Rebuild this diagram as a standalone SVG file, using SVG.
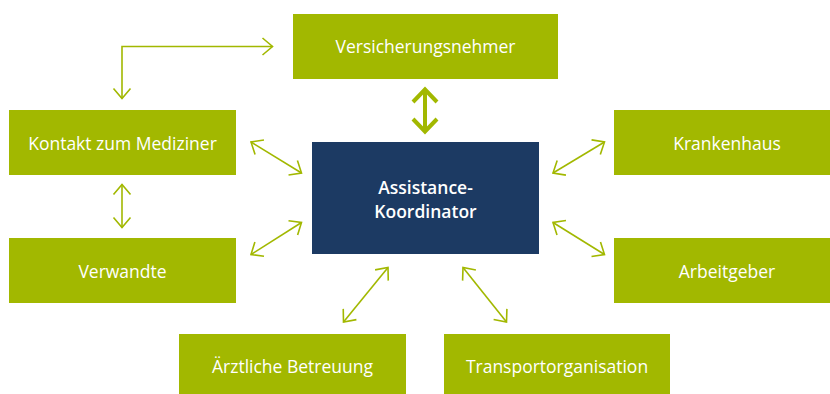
<svg xmlns="http://www.w3.org/2000/svg" width="830" height="394" viewBox="0 0 830 394">
  <style>
    .box { fill: #a2b800; }
    .hub { fill: #1c3a63; }
    .lbl { font-family: "Open Sans", "Liberation Sans", sans-serif; font-size: 17.5px; fill: #ffffff; text-anchor: middle; }
    .hubl { font-family: "Open Sans", "Liberation Sans", sans-serif; font-size: 17.5px; font-weight: 600; fill: #ffffff; text-anchor: middle; }
    .link { fill: none; stroke: #a2b800; stroke-width: 1.6; }
    .thick { fill: none; stroke: #a2b800; stroke-width: 4; }
  </style>
  <defs>
    <marker id="head" markerUnits="userSpaceOnUse" viewBox="-12 -10 14 20" refX="0" refY="0" markerWidth="14" markerHeight="20" orient="auto-start-reverse">
      <path d="M-10,-8.5 L0,0 L-10,8.5" fill="none" stroke="#a2b800" stroke-width="1.6"/>
    </marker>
    <marker id="headBig" markerUnits="userSpaceOnUse" viewBox="-16 -16 20 32" refX="0" refY="0" markerWidth="20" markerHeight="32" orient="auto-start-reverse">
      <path d="M-12.5,-12 L0,0 L-12.5,12" fill="none" stroke="#a2b800" stroke-width="4"/>
    </marker>
  </defs>

  <g id="connectors">
    <polyline class="link" points="122,98.5 122,46.5 272.5,46.5" marker-start="url(#head)" marker-end="url(#head)"/>
    <line class="link" x1="122" y1="184.5" x2="122" y2="227.5" marker-start="url(#head)" marker-end="url(#head)"/>
    <line class="link" x1="251" y1="142" x2="301.5" y2="173" marker-start="url(#head)" marker-end="url(#head)"/>
    <line class="link" x1="301.5" y1="222.5" x2="251" y2="254.5" marker-start="url(#head)" marker-end="url(#head)"/>
    <line class="link" x1="553" y1="173" x2="604.5" y2="142" marker-start="url(#head)" marker-end="url(#head)"/>
    <line class="link" x1="553" y1="222.5" x2="604.5" y2="254.5" marker-start="url(#head)" marker-end="url(#head)"/>
    <line class="link" x1="388" y1="267.5" x2="343.5" y2="322" marker-start="url(#head)" marker-end="url(#head)"/>
    <line class="link" x1="463" y1="267.5" x2="506.5" y2="322" marker-start="url(#head)" marker-end="url(#head)"/>
    <line class="thick" x1="425" y1="89.5" x2="425" y2="131.5" marker-start="url(#headBig)" marker-end="url(#headBig)"/>
  </g>

  <g id="versicherungsnehmer">
    <rect class="box" x="293" y="14" width="265" height="65"/>
    <text class="lbl" x="425.5" y="53">Versicherungsnehmer</text>
  </g>
  <g id="kontakt-mediziner">
    <rect class="box" x="9" y="110" width="227" height="65"/>
    <text class="lbl" x="122.5" y="150">Kontakt zum Mediziner</text>
  </g>
  <g id="verwandte">
    <rect class="box" x="9" y="238" width="227" height="65"/>
    <text class="lbl" x="122.5" y="278">Verwandte</text>
  </g>
  <g id="krankenhaus">
    <rect class="box" x="614" y="110" width="216" height="65"/>
    <text class="lbl" x="727" y="150">Krankenhaus</text>
  </g>
  <g id="arbeitgeber">
    <rect class="box" x="614" y="238" width="216" height="65"/>
    <text class="lbl" x="727" y="278">Arbeitgeber</text>
  </g>
  <g id="aerztliche-betreuung">
    <rect class="box" x="179" y="334" width="227" height="60"/>
    <text class="lbl" x="292.5" y="373">Ärztliche Betreuung</text>
  </g>
  <g id="transportorganisation">
    <rect class="box" x="444" y="334" width="226" height="60"/>
    <text class="lbl" x="557" y="373">Transportorganisation</text>
  </g>
  <g id="assistance-koordinator">
    <rect class="hub" x="312" y="142" width="227" height="112"/>
    <text class="hubl" x="425.5" y="194">Assistance-</text>
    <text class="hubl" x="425.5" y="218">Koordinator</text>
  </g>
</svg>
